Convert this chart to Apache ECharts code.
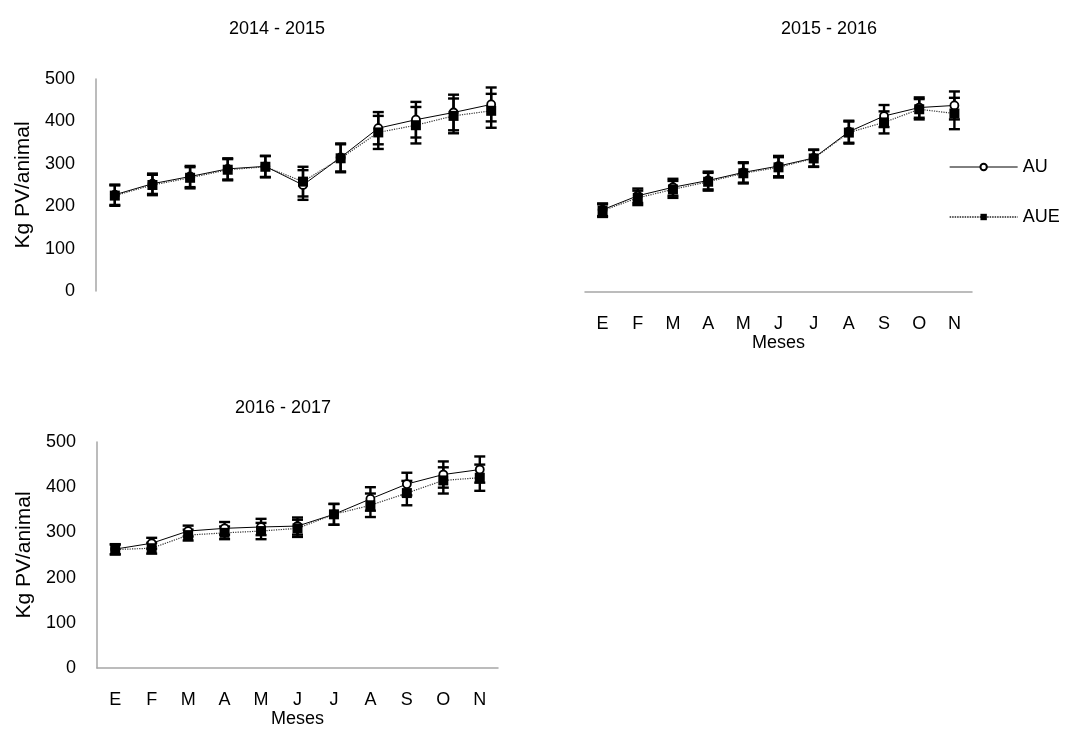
<!DOCTYPE html>
<html>
<head>
<meta charset="utf-8">
<script src="https://cdn.jsdelivr.net/npm/echarts@6/dist/echarts.min.js"></script>
<style>
  html, body { margin: 0; padding: 0; background: #fff; }
  #chart { width: 1066px; height: 738px; }
</style>
</head>
<body>
<div id="chart"></div>
<script>
// Months of the grazing season (Enero .. Noviembre)
const months = ['E', 'F', 'M', 'A', 'M', 'J', 'J', 'A', 'S', 'O', 'N'];
const seasons = ['2014 - 2015', '2015 - 2016', '2016 - 2017'];

// Live weight (kg PV/animal) means and standard errors, 2014 - 2015
const au1415      = [227, 253, 270, 288, 294, 250, 315, 384, 404, 421, 440];
const aue1415     = [225, 250, 267, 286, 293, 258, 313, 374, 391, 413, 425];
const auErr1415   = [24, 24, 25, 25, 25, 35, 33, 38, 42, 42, 40];
const aueErr1415  = [24, 24, 25, 25, 25, 35, 33, 39, 43, 41, 40];

// 2015 - 2016
const au1516      = [194, 227, 247, 263, 282, 297, 316, 378, 415, 435, 440];
const aue1516     = [192, 222, 242, 260, 280, 294, 315, 376, 400, 431, 421];
const auErr1516   = [15, 17, 20, 21, 24, 24, 20, 26, 26, 24, 33];
const aueErr1516  = [15, 17, 20, 21, 24, 24, 20, 26, 26, 24, 37];

// 2016 - 2017
const au1617      = [263, 276, 303, 309, 312, 314, 340, 374, 407, 428, 439];
const aue1617     = [262, 265, 294, 299, 303, 309, 340, 360, 387, 415, 421];
const auErr1617   = [11, 12, 12, 14, 18, 19, 23, 26, 25, 29, 29];
const aueErr1617  = [11, 12, 12, 14, 18, 19, 23, 26, 27, 29, 29];

const yMin = 0, yMax = 500, yStep = 100;

const FONT = '"Liberation Sans", Arial, sans-serif';
const AXIS_GRAY = '#a6a6a6';

const panels = [
  { au: au1415, aue: aue1415, auErr: auErr1415, aueErr: aueErr1415,
    grid: { left: 96, top: 79, width: 414, height: 212 },
    showX: false, showY: true, labelMargin: 23, nameGap: 37 },
  { au: au1516, aue: aue1516, auErr: auErr1516, aueErr: aueErr1516,
    grid: { left: 585, top: 80, width: 387, height: 212 },
    showX: true, showY: false, labelMargin: 23, nameGap: 37 },
  { au: au1617, aue: aue1617, auErr: auErr1617, aueErr: aueErr1617,
    grid: { left: 97, top: 442, width: 401, height: 226 },
    showX: true, showY: true, labelMargin: 23, nameGap: 39 }
];

// Error bar: vertical stem with horizontal caps, placed through the axes' scales
function errorBarRenderer(params, api) {
  const idx = api.value(0);
  const v = api.value(1);
  const e = api.value(2);
  const top = api.coord([idx, v + e]);
  const bot = api.coord([idx, v - e]);
  const half = 5.5;
  const style = { stroke: '#000', lineWidth: 2.4 };
  return {
    type: 'group',
    children: [
      { type: 'line', shape: { x1: top[0], y1: top[1], x2: bot[0], y2: bot[1] }, style },
      { type: 'line', shape: { x1: top[0] - half, y1: top[1], x2: top[0] + half, y2: top[1] }, style },
      { type: 'line', shape: { x1: bot[0] - half, y1: bot[1], x2: bot[0] + half, y2: bot[1] }, style }
    ]
  };
}

const grids = [], xAxes = [], yAxes = [], series = [];

panels.forEach((p, i) => {
  grids.push(Object.assign({ containLabel: false }, p.grid));
  xAxes.push({
    type: 'category',
    gridIndex: i,
    data: months,
    boundaryGap: true,
    show: p.showX,
    name: 'Meses',
    nameLocation: 'middle',
    nameGap: p.nameGap,
    nameTextStyle: { color: '#000', fontSize: 18, fontFamily: FONT },
    axisLine: { show: true, lineStyle: { color: AXIS_GRAY, width: 1.5 } },
    axisTick: { show: false },
    axisLabel: { interval: 0, margin: p.labelMargin, color: '#000', fontSize: 18, fontFamily: FONT },
    splitLine: { show: false }
  });
  yAxes.push({
    type: 'value',
    gridIndex: i,
    min: yMin, max: yMax, interval: yStep,
    show: p.showY,
    name: 'Kg PV/animal',
    nameLocation: 'middle',
    nameRotate: 90,
    nameGap: 62,
    nameTextStyle: { color: '#000', fontSize: 21, fontFamily: FONT },
    axisLine: { show: true, lineStyle: { color: AXIS_GRAY, width: 1.5 } },
    axisTick: { show: false },
    axisLabel: { margin: 21, color: '#000', fontSize: 18, fontFamily: FONT },
    splitLine: { show: false }
  });

  series.push({
    type: 'custom', name: 'AU error', xAxisIndex: i, yAxisIndex: i, z: 2,
    renderItem: errorBarRenderer,
    data: p.au.map((v, k) => [k, v, p.auErr[k]])
  });
  series.push({
    type: 'custom', name: 'AUE error', xAxisIndex: i, yAxisIndex: i, z: 2,
    renderItem: errorBarRenderer,
    data: p.aue.map((v, k) => [k, v, p.aueErr[k]])
  });
  series.push({
    type: 'line', name: 'AU', xAxisIndex: i, yAxisIndex: i, z: 3,
    data: p.au,
    symbol: 'circle', symbolSize: 8,
    itemStyle: { color: '#fff', borderColor: '#000', borderWidth: 1.8 },
    lineStyle: { color: '#000', width: 1 }
  });
  series.push({
    type: 'line', name: 'AUE', xAxisIndex: i, yAxisIndex: i, z: 4,
    data: p.aue,
    symbol: 'rect', symbolSize: 10,
    itemStyle: { color: '#000' },
    lineStyle: { color: '#333', width: 1.2, type: 'dotted' }
  });
});

const titlePos = [[277, 29], [829, 29], [283, 408]];

const chart = echarts.init(document.getElementById('chart'), null, { renderer: 'canvas' });
chart.setOption({
  animation: false,
  backgroundColor: '#fff',
  graphic: seasons.map((s, i) => ({
    type: 'text',
    x: titlePos[i][0], y: titlePos[i][1],
    style: { text: s, align: 'center', verticalAlign: 'middle', fill: '#000',
             font: '18px "Liberation Sans", Arial, sans-serif' }
  })),
  legend: {
    orient: 'vertical',
    left: 949, top: 158,
    padding: 0,
    itemWidth: 68, itemHeight: 8, itemGap: 32,
    data: [
      { name: 'AU', lineStyle: { width: 1, color: '#000', type: 'solid' } },
      { name: 'AUE', lineStyle: { width: 1.3, color: '#222', type: [1.5, 1] } }
    ],
    textStyle: { color: '#000', fontSize: 18, lineHeight: 18, fontFamily: FONT },
    selectedMode: false
  },
  grid: grids,
  xAxis: xAxes,
  yAxis: yAxes,
  series: series
});
</script>
</body>
</html>
